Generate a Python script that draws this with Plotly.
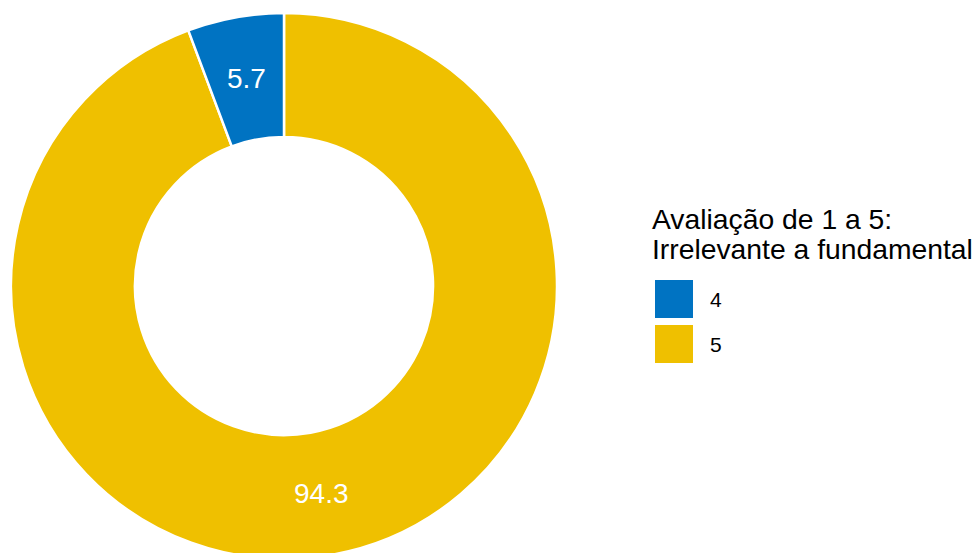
import math
import plotly.graph_objects as go

# Share of answers per rating (1 = irrelevant ... 5 = fundamental)
categories = ["4", "5"]
shares = [5.7, 94.3]
colors = ["#0073C2", "#EFC000"]
legend_title = ["Avaliação de 1 a 5:", "Irrelevante a fundamental"]

W, H = 978, 559
TOP = 13
FONT = "Liberation Sans, Arial, sans-serif"
HOLE = 0.546

# Ring geometry (pixel units, y measured downward)
dom_x = [11 / W, 557 / W]
radius = (H - TOP) / 2
cx = W * (dom_x[0] + dom_x[1]) / 2
cy = TOP + radius
r_label = radius * (1 + HOLE) / 2

# Plotly always lays the first slice just clockwise of 12 o'clock, so the
# slices are fed in reverse to put rating 4 just counter-clockwise of it.
fig = go.Figure(
    go.Pie(
        labels=categories[::-1],
        values=shares[::-1],
        sort=False,
        direction="clockwise",
        rotation=0,
        hole=HOLE,
        marker=dict(colors=colors[::-1], line=dict(color="white", width=2.5)),
        textinfo="none",
        showlegend=False,
        hoverinfo="label+value",
        domain=dict(x=dom_x, y=[0, 1]),
    )
)

shapes = []
annotations = []

# Value labels at the middle of each ring segment (counter-clockwise from top)
total = sum(shares)
start = 0.0
for val in shares:
    mid = -(start + val / 2) / total * 2 * math.pi
    annotations.append(dict(
        x=cx + r_label * math.sin(mid), y=cy - r_label * math.cos(mid),
        xref="x", yref="y", text=f"{val:g}", showarrow=False,
        xanchor="center", yanchor="middle",
        font=dict(size=28, color="white", family=FONT),
    ))
    start += val

# Legend: title lines, colour keys and labels
title_y = [219, 249]
for line, yy in zip(legend_title, title_y):
    annotations.append(dict(
        x=650, y=yy, xref="x", yref="y", text=line, showarrow=False,
        xanchor="left", yanchor="middle",
        font=dict(size=28.3, color="black", family=FONT),
    ))
key_y = [299, 344]
for cat, col, yy in zip(categories, colors, key_y):
    shapes.append(dict(
        type="rect", xref="x", yref="y",
        x0=655, x1=693, y0=yy - 19, y1=yy + 19,
        fillcolor=col, line=dict(width=0),
    ))
    annotations.append(dict(
        x=708, y=yy, xref="x", yref="y", text=cat, showarrow=False,
        xanchor="left", yanchor="middle",
        font=dict(size=21, color="black", family=FONT),
    ))

fig.update_layout(
    width=W, height=H,
    margin=dict(l=0, r=0, t=TOP, b=0),
    paper_bgcolor="white", plot_bgcolor="rgba(0,0,0,0)",
    xaxis=dict(range=[0, W], visible=False, fixedrange=True, domain=[0, 1]),
    yaxis=dict(range=[H, TOP], visible=False, fixedrange=True, domain=[0, 1]),
    shapes=shapes,
    annotations=annotations,
)

fig.write_html(
    "out.html",
    post_script="document.body.style.margin='0';document.body.style.overflow='hidden';",
)
